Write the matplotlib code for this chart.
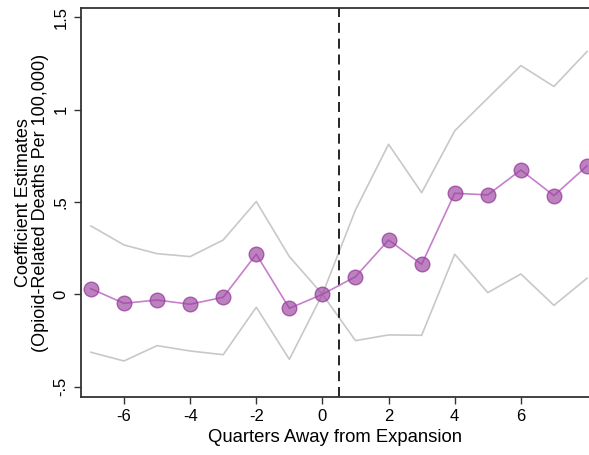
import matplotlib.pyplot as plt

plt.rcParams['font.family'] = ['Liberation Sans', 'DejaVu Sans']
plt.rcParams['axes.unicode_minus'] = False

quarters = [-7, -6, -5, -4, -3, -2, -1, 0, 1, 2, 3, 4, 5, 6, 7, 8]
coef = [0.03, -0.049, -0.031, -0.054, -0.016, 0.217, -0.076, 0.0,
        0.095, 0.294, 0.162, 0.547, 0.538, 0.673, 0.534, 0.695]
upper = [0.37, 0.267, 0.22, 0.204, 0.294, 0.502, 0.204, 0.0,
         0.457, 0.812, 0.55, 0.885, 1.062, 1.238, 1.125, 1.314]
lower = [-0.314, -0.361, -0.278, -0.307, -0.327, -0.07, -0.352, 0.0,
         -0.251, -0.22, -0.222, 0.217, 0.009, 0.11, -0.06, 0.087]

xticks = [-6, -4, -2, 0, 2, 4, 6]
yticks = [-0.5, 0, 0.5, 1, 1.5]
ylabels = ['-.5', '0', '.5', '1', '1.5']

fig = plt.figure(figsize=(5.89, 4.55), dpi=100)
ax = fig.add_axes([0.1375, 0.1275, 0.8625, 0.855])

# confidence bounds
ax.plot(quarters, upper, color='#c8c8c8', lw=1.2, zorder=1)
ax.plot(quarters, lower, color='#c8c8c8', lw=1.2, zorder=1)

# point estimates
ax.plot(quarters, coef, color='#c77fcb', lw=1.2, zorder=2)
ax.plot(quarters, coef, 'o', ms=10.5, mfc=(0.6, 0.25, 0.62, 0.65),
        mec=(0.6, 0.25, 0.62, 0.8), mew=1, ls='none', zorder=3)

ax.axvline(0.5, color='black', lw=1.2, ls=(0, (6, 3.5)), zorder=1)

ax.set_xlim(-7.3, 8.06)
ax.set_ylim(-0.556, 1.55)
ax.set_xticks(xticks)
ax.set_yticks(yticks)
ax.set_yticklabels(ylabels, rotation=90, va='center')
ax.tick_params(labelsize=12, color='#333333', length=5, width=1, pad=4)

for s in ['left', 'bottom', 'top']:
    ax.spines[s].set_color('#333333')
    ax.spines[s].set_linewidth(1.3)
ax.spines['right'].set_visible(False)

ax.set_xlabel('Quarters Away from Expansion', fontsize=13.3, labelpad=3)
ax.set_ylabel('Coefficient Estimates\n(Opioid-Related Deaths Per 100,000)',
              fontsize=13, labelpad=3, linespacing=1.0)

fig.savefig('out.png', dpi=100)
